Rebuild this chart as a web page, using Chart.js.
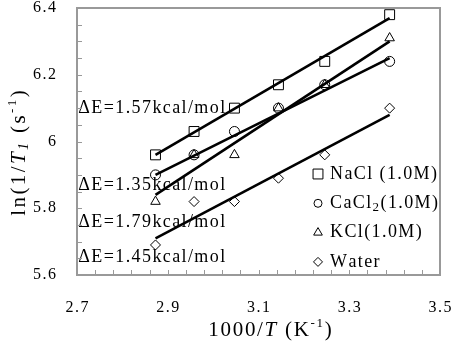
<!DOCTYPE html>
<html><head><meta charset="utf-8">
<script src="https://cdn.jsdelivr.net/npm/chart.js@4/dist/chart.umd.min.js"></script>
<style>html,body{margin:0;padding:0;background:#fff}</style>
</head><body>
<canvas id="c" width="454" height="343"></canvas>
<script>
// ---- data ----
const xValues = [2.873, 2.958, 3.047, 3.144, 3.246, 3.389];
const nacl  = [5.96, 6.03, 6.10, 6.17, 6.24, 6.38];
const cacl2 = [5.90, 5.96, 6.03, 6.10, 6.17, 6.24];
const kcl   = [5.82, 5.96, 5.96, 6.10, 6.17, 6.31];
const water = [5.69, 5.82, 5.82, 5.89, 5.96, 6.10];
const fitX     = [2.873, 3.389];
const fitNaCl  = [5.96, 6.37];
const fitCaCl2 = [5.90, 6.25];
const fitKCl   = [5.84, 6.30];
const fitWater = [5.71, 6.08];
const xTicks = [2.7, 2.9, 3.1, 3.3, 3.5];
const xTickLabels = ['2.7', '2.9', '3.1', '3.3', '3.5'];
const yTicks = [5.6, 5.8, 6.0, 6.2, 6.4];
const yTickLabels = ['5.6', '5.8', '6', '6.2', '6.4'];
const annotationTexts = ['ΔE=1.57kcal/mol', 'ΔE=1.35kcal/mol', 'ΔE=1.79kcal/mol', 'ΔE=1.45kcal/mol'];
const annotationY = [6.099, 5.869, 5.759, 5.654];
const annotationX = 2.703;

const pts = ys => xValues.map((x, i) => ({x, y: ys[i]}));
const fit = ys => fitX.map((x, i) => ({x, y: ys[i]}));

const SERIF = '"Liberation Serif","Times New Roman",serif';
const F = (size, italic) => (italic ? 'italic ' : '') + size + 'px ' + SERIF;

function measureRich(ctx, segs, sp) {
  let w = 0;
  for (const s of segs) { ctx.font = s.f; for (const ch of s.t) w += ctx.measureText(ch).width + sp; }
  return w - sp;
}
function drawRich(ctx, segs, x, y, align, sp) {
  const w = measureRich(ctx, segs, sp);
  let cx = align === 'center' ? x - w / 2 : align === 'right' ? x - w : x;
  ctx.textBaseline = 'middle'; ctx.textAlign = 'left';
  for (const s of segs) {
    ctx.font = s.f;
    for (const ch of s.t) { ctx.fillText(ch, cx, y + (s.dy || 0)); cx += ctx.measureText(ch).width + sp; }
  }
}
function marker(ctx, style, x, y, r) {
  ctx.beginPath();
  if (style === 'rect') { const s = r * Math.SQRT1_2; ctx.rect(x - s, y - s, 2 * s, 2 * s); }
  else if (style === 'circle') { ctx.arc(x, y, r, 0, Math.PI * 2); }
  else if (style === 'triangle') {
    ctx.moveTo(x, y - r); ctx.lineTo(x + r * 0.866, y + r / 2); ctx.lineTo(x - r * 0.866, y + r / 2); ctx.closePath();
  } else if (style === 'rectRot') {
    ctx.moveTo(x - r, y); ctx.lineTo(x, y - r); ctx.lineTo(x + r, y); ctx.lineTo(x, y + r); ctx.closePath();
  }
  ctx.stroke();
}

const legendItems = [
  {style: 'rect', r: 7, segs: [{t: 'NaCl (1.0M)', f: F(18)}]},
  {style: 'circle', r: 4, segs: [{t: 'CaCl', f: F(18)}, {t: '2', f: F(13), dy: 4}, {t: '(1.0M)', f: F(18)}]},
  {style: 'triangle', r: 5, segs: [{t: 'KCl(1.0M)', f: F(18)}]},
  {style: 'rectRot', r: 4.5, segs: [{t: 'Water', f: F(18)}]}
];

const deco = {
  id: 'deco',
  beforeDatasetsDraw(chart) {
    const {ctx, scales: {x, y}} = chart;
    ctx.save();
    ctx.fillStyle = '#000';
    annotationTexts.forEach((t, i) => {
      drawRich(ctx, [{t, f: F(18)}], x.getPixelForValue(annotationX), y.getPixelForValue(annotationY[i]), 'left', 1.4);
    });
    ctx.restore();
  },
  afterDraw(chart) {
    const {ctx, chartArea: a, scales: {x, y}} = chart;
    ctx.save();
    // frame
    ctx.strokeStyle = '#999';
    ctx.lineWidth = 2;
    ctx.strokeRect(a.left, a.top, a.right - a.left, a.bottom - a.top);
    // minor ticks (inside)
    ctx.lineWidth = 1;
    ctx.beginPath();
    for (let i = 1; i < 20; i++) {
      const px = Math.round(x.getPixelForValue(2.7 + i * 0.04)) + 0.5;
      ctx.moveTo(px, a.bottom); ctx.lineTo(px, a.bottom - 5);
    }
    for (let i = 1; i < 16; i++) {
      const py = Math.round(y.getPixelForValue(5.6 + i * 0.05)) + 0.5;
      ctx.moveTo(a.left, py); ctx.lineTo(a.left + 5, py);
    }
    ctx.stroke();
    // tick labels
    ctx.fillStyle = '#000';
    xTicks.forEach((v, i) => drawRich(ctx, [{t: xTickLabels[i], f: F(16)}], x.getPixelForValue(v), 308, 'center', 1.5));
    yTicks.forEach((v, i) => drawRich(ctx, [{t: yTickLabels[i], f: F(16)}], 56, y.getPixelForValue(v), 'right', 1.5));
    // x title
    drawRich(ctx, [{t: '1000/', f: F(21)}, {t: 'T', f: F(21, true)}, {t: ' (K', f: F(21)}, {t: '-1', f: F(13), dy: -6}, {t: ')', f: F(21)}],
      270, 330, 'center', 1.7);
    // y title
    ctx.translate(19, 153);
    ctx.rotate(-Math.PI / 2);
    drawRich(ctx, [{t: 'ln(1/', f: F(21)}, {t: 'T', f: F(21, true)}, {t: '1', f: F(14, true), dy: 5}, {t: ' (s', f: F(21)}, {t: '-1', f: F(13), dy: -6}, {t: ')', f: F(21)}],
      0, 0, 'center', 2.4);
    ctx.setTransform(1, 0, 0, 1, 0, 0);
    // legend
    ctx.strokeStyle = '#000';
    ctx.lineWidth = 1;
    legendItems.forEach((it, i) => {
      const cy = 174 + i * 29.3;
      marker(ctx, it.style, 318, cy, it.r);
      drawRich(ctx, it.segs, 330, cy, 'left', 1.4);
    });
    ctx.restore();
  }
};

const lineDs = (data) => ({type: 'line', data, showLine: true, borderColor: '#000', borderWidth: 2.6, pointRadius: 0, fill: false});
const ptDs = (data, style, r) => ({type: 'scatter', data, showLine: false, pointStyle: style, pointRadius: r, pointHoverRadius: r,
  borderColor: '#000', backgroundColor: 'rgba(0,0,0,0)', pointBorderWidth: 1, borderWidth: 1});

new Chart(document.getElementById('c'), {
  type: 'scatter',
  data: {
    datasets: [
      lineDs(fit(fitNaCl)), lineDs(fit(fitCaCl2)), lineDs(fit(fitKCl)), lineDs(fit(fitWater)),
      ptDs(pts(nacl), 'rect', 7), ptDs(pts(cacl2), 'circle', 5), ptDs(pts(kcl), 'triangle', 5.5), ptDs(pts(water), 'rectRot', 5)
    ]
  },
  options: {
    responsive: false,
    animation: false,
    events: [],
    layout: {padding: {left: 77, right: 14, top: 7, bottom: 68}},
    plugins: {legend: {display: false}, tooltip: {enabled: false}},
    scales: {
      x: {type: 'linear', min: 2.7, max: 3.5, display: false},
      y: {type: 'linear', min: 5.6, max: 6.4, display: false}
    }
  },
  plugins: [deco]
});
</script>
</body></html>
